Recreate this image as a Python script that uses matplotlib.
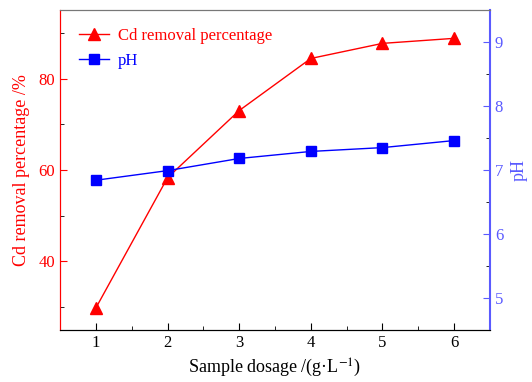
import matplotlib
matplotlib.use("Agg")
import matplotlib.pyplot as plt
from matplotlib.ticker import MultipleLocator

dosage = [1, 2, 3, 4, 5, 6]
cd_removal = [29.8, 58.3, 73.0, 84.4, 87.7, 88.8]
ph = [6.84, 6.99, 7.18, 7.29, 7.35, 7.46]

plt.rcParams["font.family"] = ["Liberation Serif", "DejaVu Serif"]
plt.rcParams["font.size"] = 12
plt.rcParams["mathtext.fontset"] = "stix"

red = "#ff0000"
blue = "#0000ff"
blue_axis = "#5a5aff"

fig = plt.figure(figsize=(5.32, 3.82), dpi=100)
ax = fig.add_axes([60 / 532, 1 - 330 / 382, 430 / 532, 320 / 382])
ax2 = ax.twinx()

l1, = ax.plot(dosage, cd_removal, color=red, lw=1, marker="^", ms=9,
              label="Cd removal percentage")
l2, = ax2.plot(dosage, ph, color=blue, lw=1, marker="s", ms=7, label="pH")

ax.set_xlim(0.5, 6.5)
ax.set_ylim(25, 95)
ax2.set_ylim(4.5, 9.5)
ax.xaxis.set_major_locator(MultipleLocator(1))
ax.xaxis.set_minor_locator(MultipleLocator(0.5))
ax.yaxis.set_major_locator(MultipleLocator(20))
ax.yaxis.set_minor_locator(MultipleLocator(10))
ax2.yaxis.set_major_locator(MultipleLocator(1))
ax2.yaxis.set_minor_locator(MultipleLocator(0.5))

for a in (ax, ax2):
    a.tick_params(which="both", direction="in", top=False)
    a.tick_params(which="major", length=5)
    a.tick_params(which="minor", length=3)

ax.tick_params(axis="y", colors=red, labelcolor=red)
ax2.tick_params(axis="y", colors=blue_axis, labelcolor=blue_axis)
ax.spines["left"].set_color(red)
ax2.spines["left"].set_color(red)
ax2.spines["right"].set_color(blue_axis)
ax2.spines["right"].set_linewidth(1.5)
ax.spines["right"].set_visible(False)
ax.spines["top"].set_color("#777777")
ax2.spines["top"].set_color("#777777")

ax.set_xlabel("Sample dosage /(g·L$^{-1}$)", fontsize=13)
ax.set_ylabel("Cd removal percentage /%", color=red, fontsize=13, labelpad=6)
ax2.set_ylabel("pH", color=blue_axis, fontsize=13, labelpad=5)

leg = ax.legend(handles=[l1, l2], loc="upper left", frameon=False,
                fontsize=12, handlelength=1.8, handletextpad=0.5,
                bbox_to_anchor=(0.01, 0.99))
for txt, c in zip(leg.get_texts(), [red, blue]):
    txt.set_color(c)

fig.savefig("out.png", dpi=100)
